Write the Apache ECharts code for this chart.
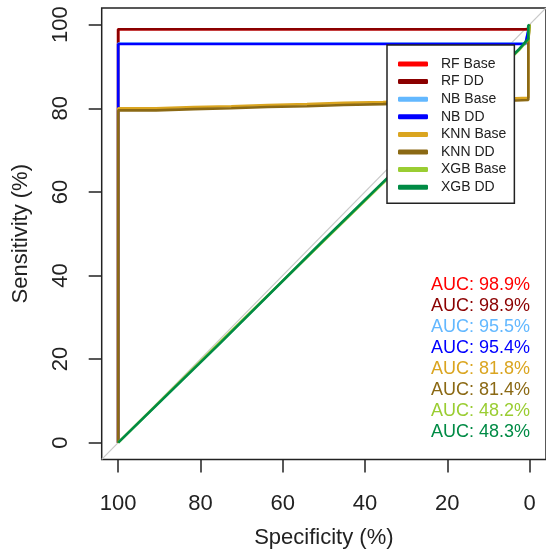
<!DOCTYPE html>
<html>
<head>
<meta charset="utf-8">
<script src="https://cdn.jsdelivr.net/npm/echarts@6/dist/echarts.min.js"></script>
<style>
  html, body { margin: 0; padding: 0; background: #fff; }
  #main { width: 546px; height: 559px; }
</style>
</head>
<body>
<div id="main"></div>
<script>
// ROC curves, points as [specificity, sensitivity] in %
var names = ['RF Base', 'RF DD', 'NB Base', 'NB DD', 'KNN Base', 'KNN DD', 'XGB Base', 'XGB DD'];
var colors = ['#FF0000', '#8B0000', '#63B8FF', '#0000FF', '#DAA520', '#8B6914', '#9ACD32', '#008B45'];
var aucValues = [98.9, 98.9, 95.5, 95.4, 81.8, 81.4, 48.2, 48.3];
var axisTicks = [0, 20, 40, 60, 80, 100];

var rfBase = [[100, 0], [100, 98.9], [0.3, 98.9], [0, 100]];
var rfDD = [[100, 0], [100, 98.9], [0.3, 98.9], [0, 100]];
var nbBase = [[100, 0], [100, 95.5], [1, 95.5], [0, 100]];
var nbDD = [[100, 0], [100, 95.4], [1, 95.4], [0, 100]];

// knn: staircase break points
var knnStepSpec = [100, 90.8, 81.6, 72.5, 63.6, 54.1, 45.2, 35.6, 26.5, 17.1, 8.0, 0.3];
var knnBaseSens = [80.0, 80.3, 80.5, 80.8, 81.0, 81.3, 81.5, 81.8, 82.0, 82.2, 82.5, 82.7];
var knnDDSens = [79.5, 79.8, 80.0, 80.3, 80.5, 80.8, 81.0, 81.3, 81.5, 81.7, 82.0, 82.2];

var xgbBase = [[100, 0], [75, 24.3], [50, 48.3], [25, 72.3], [2.5, 94.0], [0.3, 96.5], [0, 100]];
var xgbDD = [[100, 0], [75, 24], [50, 48.5], [25, 72.5], [2.5, 94.2], [0.3, 96.6], [0.3, 99.8], [0, 100]];

var chance = [[104, -4], [-4, 104]];

function stairs(spec, sens) {
    var pts = [[spec[0], 0]];
    for (var i = 0; i < spec.length; i++) {
        pts.push([spec[i], sens[i]]);
        if (i + 1 < spec.length) pts.push([spec[i + 1], sens[i]]);
    }
    pts.push([spec[spec.length - 1], 96]);
    pts.push([0, 100]);
    return pts;
}

var curves = [rfBase, rfDD, nbBase, nbDD,
    stairs(knnStepSpec, knnBaseSens), stairs(knnStepSpec, knnDDSens),
    xgbBase, xgbDD];

var font = 'Liberation Sans, Arial, sans-serif';
var chart = echarts.init(document.getElementById('main'));

var series = [{
    name: 'chance',
    type: 'line',
    data: chance,
    showSymbol: false,
    silent: true,
    lineStyle: { color: '#C8C8C8', width: 1.2 }
}];
curves.forEach(function (pts, i) {
    series.push({
        name: names[i],
        type: 'line',
        data: pts,
        showSymbol: false,
        color: colors[i],
        lineStyle: { color: colors[i], width: 2.6 }
    });
});

chart.setOption({
    animation: false,
    backgroundColor: '#fff',
    grid: {
        left: 101.7,
        top: 8,
        width: 451.5,
        height: 451.4,
        show: true,
        borderColor: '#222',
        borderWidth: 1.5,
        backgroundColor: 'transparent'
    },
    legend: {
        data: names,
        orient: 'vertical',
        left: 387,
        top: 45,
        icon: 'roundRect',
        itemWidth: 30,
        itemHeight: 5,
        itemGap: 3.6,
        padding: [12, 8, 9, 11],
        borderColor: '#222',
        borderWidth: 1.5,
        backgroundColor: '#fff',
        selectedMode: false,
        textStyle: { fontFamily: font, fontSize: 14, color: '#222', padding: [0, 0, 0, 8] }
    },
    xAxis: {
        type: 'value',
        inverse: true,
        min: -4,
        max: 104,
        name: 'Specificity (%)',
        nameLocation: 'middle',
        nameGap: 68,
        nameTextStyle: { fontFamily: font, fontSize: 22, color: '#222' },
        axisLine: { show: false, onZero: false },
        splitLine: { show: false },
        axisTick: { customValues: axisTicks, length: 13, lineStyle: { color: '#222', width: 1.5 } },
        axisLabel: { customValues: axisTicks, margin: 34, fontFamily: font, fontSize: 22, color: '#222' }
    },
    yAxis: {
        type: 'value',
        min: -4,
        max: 104,
        name: 'Sensitivity (%)',
        nameLocation: 'middle',
        nameGap: 70,
        nameTextStyle: { fontFamily: font, fontSize: 22, color: '#222' },
        axisLine: { show: false, onZero: false },
        splitLine: { show: false },
        axisTick: { customValues: axisTicks, length: 13, lineStyle: { color: '#222', width: 1.5 } },
        axisLabel: { customValues: axisTicks, rotate: 90, margin: 30, fontFamily: font, fontSize: 22, color: '#222' }
    },
    graphic: aucValues.map(function (v, i) {
        return {
            type: 'text',
            x: 431,
            y: 285 + i * 20.95,
            z: 100,
            style: {
                text: 'AUC: ' + v.toFixed(1) + '%',
                fill: colors[i],
                font: '18px ' + font,
                verticalAlign: 'middle'
            }
        };
    }),
    series: series
});
</script>
</body>
</html>
